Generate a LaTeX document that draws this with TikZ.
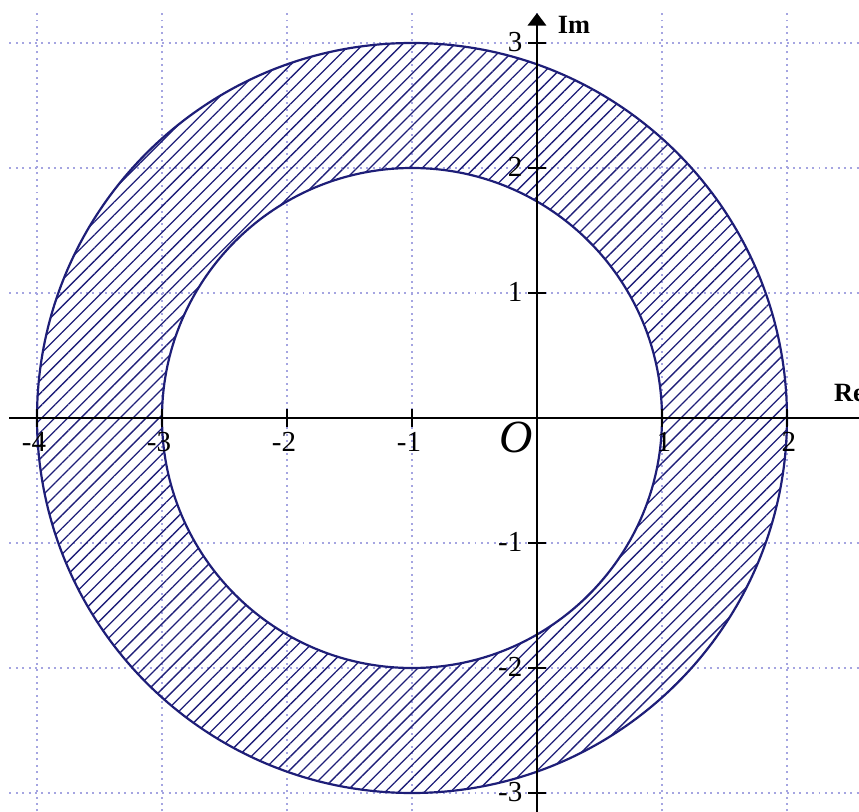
\documentclass[tikz,border=0pt]{standalone}
\usepackage{fontspec}
\setmainfont{Liberation Serif}
\usetikzlibrary{arrows.meta,patterns.meta}
\definecolor{ink}{RGB}{30,30,120}
\definecolor{gridblue}{RGB}{165,165,225}
\tikzset{
  gridline/.style={gridblue, densely dotted, line width=0.45pt},
  axis/.style={line width=0.65pt},
  ring/.style={ink, line width=0.5pt},
  hatch/.style={pattern={Lines[angle=45,distance=2.1pt,line width=0.3pt]}, pattern color=ink},
  ticklbl/.style={font=\fontsize{6.6}{8}\selectfont, inner sep=0pt}
}
\begin{document}
\begin{tikzpicture}
  \useasboundingbox (-4.296,-3.152) rectangle (2.576,3.344);
  \clip (-4.296,-3.152) rectangle (2.576,3.344);
  % grid
  \foreach \x in {-4,...,2} { \draw[gridline] (\x,-3.3) -- (\x,3.24); }
  \foreach \y in {-3,...,3} { \draw[gridline] (-4.22,\y) -- (2.7,\y); }
  % annulus
  \coordinate (c) at (-1,0);
  \fill[hatch, even odd rule] (c) circle (3) (c) circle (2);
  \draw[ring] (c) circle (3);
  \draw[ring] (c) circle (2);
  % axes
  \coordinate (xs) at (-4.22,0);
  \coordinate (xe) at (2.75,0);
  \coordinate (ys) at (0,-3.3);
  \coordinate (ye) at (0,3.24);
  \draw[axis,-{Triangle[width=1.45mm,length=1mm]}] (xs) -- (xe);
  \draw[axis,-{Triangle[width=1.45mm,length=1mm]}] (ys) -- (ye);
  % ticks and labels
  \foreach \x in {-4,...,2} {
    \draw[axis] (\x,-0.07) -- (\x,0.07);
    \ifnum\x=0 \else
      \node[ticklbl,anchor=base east] (lx\x) at (\x+0.08,-0.27) {\x};
    \fi
  }
  \foreach \y in {-3,...,3} {
    \draw[axis] (-0.07,\y) -- (0.07,\y);
    \ifnum\y=0 \else
      \node[ticklbl,anchor=base east] (ly\y) at (-0.11,\y-0.07) {\y};
    \fi
  }
  \node[ticklbl,anchor=base east,font=\fontsize{10.5}{12}\selectfont\itshape] (orig) at (-0.03,-0.28) {O};
  \node[ticklbl,anchor=base west,font=\fontsize{6}{7}\selectfont\bfseries] (im) at (0.16,3.08) {Im};
  \node[ticklbl,anchor=base west,font=\fontsize{6}{7}\selectfont\bfseries] (re) at (2.37,0.13) {Re};
\end{tikzpicture}
\end{document}
